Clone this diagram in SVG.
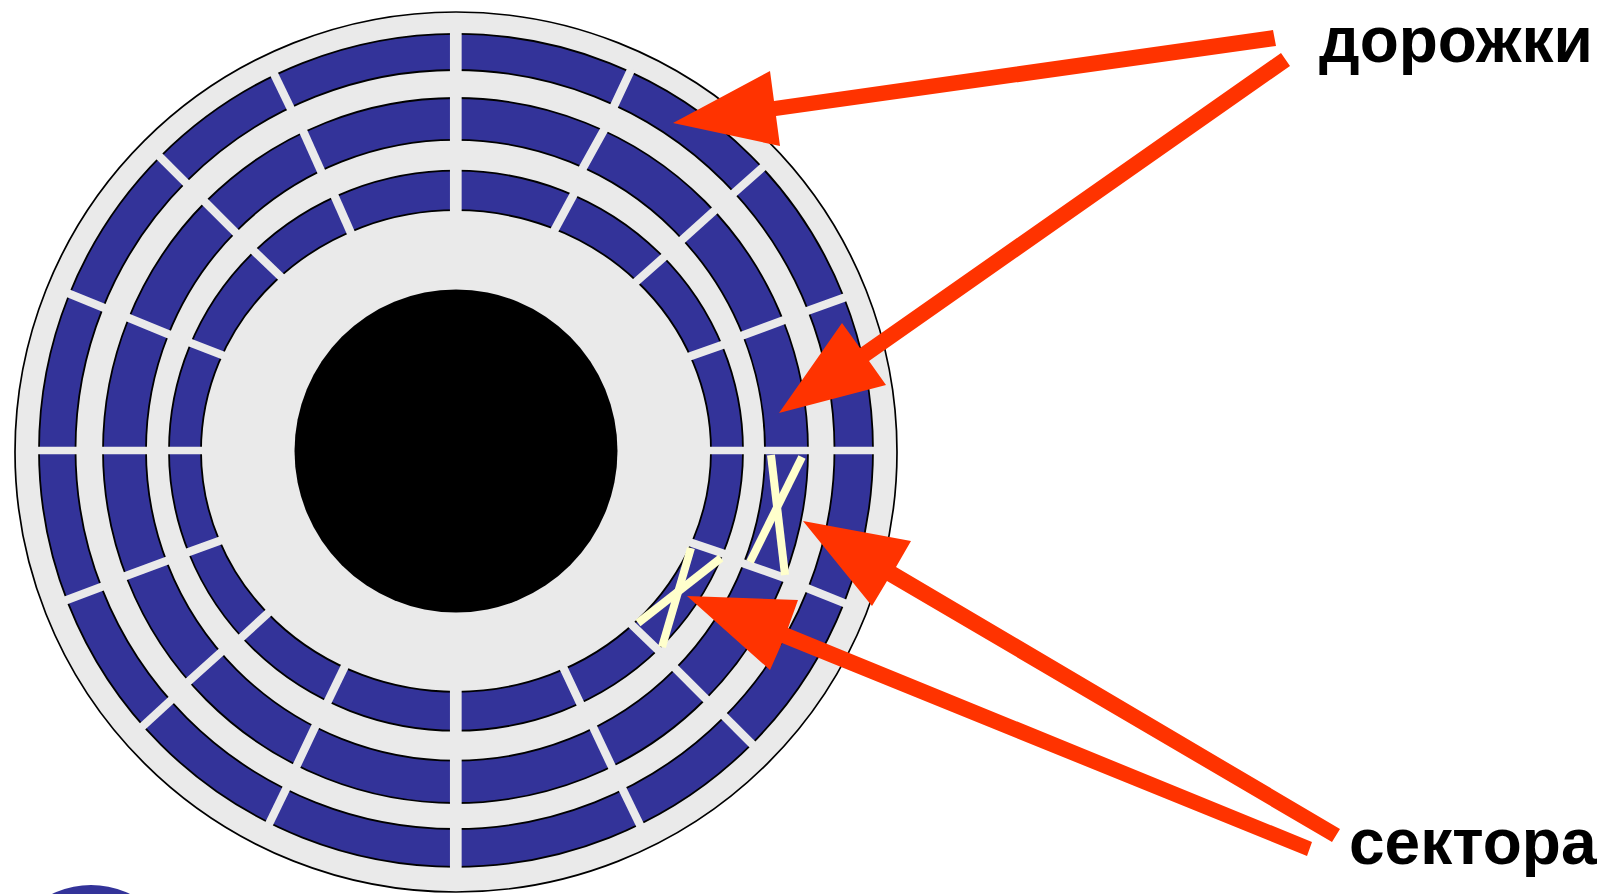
<svg xmlns="http://www.w3.org/2000/svg" width="1598" height="894" viewBox="0 0 1598 894">
<style>
.band{fill:#333399;stroke:#000;stroke-width:1.8}
.hole{fill:#eaeaea;stroke:#000;stroke-width:1.8}
.sep{stroke:#eaeaea;stroke-width:8.300;stroke-linecap:square;fill:none}
.x{stroke:#ffffcc;stroke-width:8;fill:none}
.arrow{fill:#ff3300;stroke:none}
.label{font-family:"Liberation Sans",Arial,sans-serif;font-weight:700;font-size:64px;fill:#000}
</style>
<rect width="1598" height="894" fill="#fff"/>
<g id="platter">
<circle id="spot" cx="91" cy="974" r="89" fill="#333399"/>
<ellipse id="disc" cx="456" cy="452" rx="441" ry="440" fill="#eaeaea" stroke="#000" stroke-width="1.7"/>
<ellipse class="band" cx="456" cy="450.300" rx="417" ry="416.500"/>
<ellipse class="hole" cx="455" cy="449.500" rx="379.500" ry="379.500"/>
<ellipse class="band" cx="455.500" cy="450.500" rx="352.500" ry="352.500"/>
<ellipse class="hole" cx="455.500" cy="450.300" rx="309.500" ry="310.400"/>
<ellipse class="band" cx="456" cy="450.700" rx="287" ry="280"/>
<ellipse class="hole" cx="456" cy="451" rx="255" ry="240.800"/>
<circle id="spindle" cx="456" cy="451" r="161.500" fill="#000"/>
</g>
<g id="separators" class="sep">
<line x1="455.800" y1="30" x2="455.800" y2="214" style="stroke-width:11.700;stroke-linecap:butt"/>
<line x1="455.800" y1="688" x2="455.800" y2="870" style="stroke-width:11.700;stroke-linecap:butt"/>
<line x1="36" y1="450.500" x2="204" y2="450.500" style="stroke-width:7.500;stroke-linecap:butt"/>
<line x1="708" y1="450.500" x2="876" y2="450.500" style="stroke-width:7.500;stroke-linecap:butt"/>
<line x1="630" y1="72" x2="615" y2="104"/>
<line x1="762" y1="168" x2="735" y2="192"/>
<line x1="843" y1="298" x2="810" y2="310"/>
<line x1="604" y1="130" x2="584" y2="166"/>
<line x1="714" y1="211" x2="683" y2="239"/>
<line x1="784" y1="320" x2="744" y2="335"/>
<line x1="574" y1="194" x2="555" y2="229"/>
<line x1="663" y1="258" x2="637" y2="281"/>
<line x1="722" y1="345" x2="691" y2="356"/>
<line x1="844" y1="603" x2="809" y2="589"/>
<line x1="752" y1="744" x2="725" y2="717"/>
<line x1="640" y1="825" x2="623" y2="790"/>
<line x1="785" y1="578" x2="745" y2="564"/>
<line x1="706" y1="699" x2="677" y2="670"/>
<line x1="612" y1="767" x2="594" y2="729"/>
<line x1="722" y1="553" x2="692" y2="543"/>
<line x1="657" y1="649" x2="632" y2="625"/>
<line x1="580" y1="703" x2="564" y2="669"/>
<line x1="70" y1="294" x2="102" y2="307"/>
<line x1="67" y1="600" x2="101" y2="587"/>
<line x1="129" y1="318" x2="168" y2="334"/>
<line x1="126" y1="576" x2="166" y2="561"/>
<line x1="191" y1="343" x2="222" y2="355"/>
<line x1="189" y1="552" x2="219" y2="541"/>
<line x1="255" y1="252" x2="280" y2="276"/>
<line x1="242" y1="637" x2="267" y2="614"/>
<line x1="160" y1="157" x2="185" y2="182"/>
<line x1="206" y1="203" x2="235" y2="232"/>
<line x1="275" y1="76" x2="290" y2="107"/>
<line x1="304" y1="133" x2="321" y2="171"/>
<line x1="335" y1="197" x2="350" y2="231"/>
<line x1="143" y1="726" x2="169" y2="702"/>
<line x1="189" y1="681" x2="219" y2="654"/>
<line x1="269" y1="824" x2="286" y2="789"/>
<line x1="297" y1="765" x2="315" y2="727"/>
<line x1="328" y1="701" x2="344" y2="668"/>
</g>
<g id="marks" class="x">
<line x1="771" y1="455" x2="785" y2="575"/>
<line x1="802" y1="457" x2="750" y2="562"/>
<line x1="691" y1="548" x2="662" y2="647"/>
<line x1="721" y1="558" x2="638" y2="623"/>
</g>
<g id="connectors" class="arrow">
<polygon points="673,123 770,71 774,101 1273,30 1276,46 776,116 780,146"/>
<polygon points="779,413 842,323 860,348 1281,53 1290,66 869,361 886,385"/>
<polygon points="803,521 911,541 896,567 1340,829 1332,842 887,581 872,606"/>
<polygon points="687,596 798,600 788,628 1312,842 1307,856 782,643 770,670"/>
</g>
<g id="label-tracks"><text class="label" x="1319" y="62">дорожки</text></g>
<g id="label-sectors"><text class="label" x="1349" y="864">сектора</text></g>
</svg>
